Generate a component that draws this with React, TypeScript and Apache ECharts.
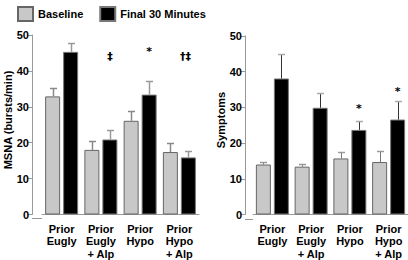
import React, { useEffect, useRef } from "react";
import * as echarts from "echarts";

const categories = ["Prior\nEugly", "Prior\nEugly\n+ Alp", "Prior\nHypo", "Prior\nHypo\n+ Alp"];
const seriesNames = ["Baseline", "Final 30 Minutes"];

const msnaBaseline = [32.9, 18.0, 26.1, 17.4];
const msnaBaselineErr = [2.3, 2.5, 2.8, 2.4];
const msnaFinal = [45.3, 20.9, 33.4, 15.9];
const msnaFinalErr = [2.6, 2.5, 3.7, 1.9];
const msnaMarks = ["", "‡", "*", "†‡"];
const msnaMarkY = [0, 44, 45.3, 44];

const symBaseline = [14.0, 13.4, 15.7, 14.7];
const symBaselineErr = [0.6, 0.8, 1.9, 3.1];
const symFinal = [38.1, 29.9, 23.7, 26.6];
const symFinalErr = [6.9, 4.2, 2.4, 5.1];
const symMarks = ["", "", "*", "*"];
const symMarkY = [0, 0, 29.6, 34.4];

const yTicks = { min: 0, max: 50, interval: 10 };

const FONT = 'Arial, "Liberation Sans", Helvetica, sans-serif';
const MARK_FONT = '"DejaVu Sans", "Liberation Sans", sans-serif';
const AXIS_GRAY = "#999";
const BAR_OFFSET = 9;

function errSeries(grid: number, base: number[], err: number[], offset: number, stroke: string, capStroke: string, lw: number) {
  return {
    type: "custom",
    xAxisIndex: grid,
    yAxisIndex: grid,
    z: 5,
    encode: { x: 0, y: 1 },
    data: base.map((v, i) => [i, v, err[i]]),
    renderItem: (params: any, api: any) => {
      const i = api.value(0);
      const v = api.value(1);
      const e = api.value(2);
      const p0 = api.coord([i, v]);
      const p1 = api.coord([i, v + e]);
      const x = Math.round(p0[0] + offset) + 0.5;
      const yTop = Math.round(p1[1]) + 0.5;
      return {
        type: "group",
        children: [
          { type: "line", shape: { x1: x, y1: p0[1], x2: x, y2: yTop }, style: { stroke, lineWidth: lw } },
          { type: "line", shape: { x1: x - 3.5, y1: yTop, x2: x + 3.5, y2: yTop }, style: { stroke: capStroke, lineWidth: 1.5 } },
        ],
      };
    },
  };
}

function markSeries(grid: number, marks: string[], ys: number[]) {
  return {
    type: "custom",
    xAxisIndex: grid,
    yAxisIndex: grid,
    z: 6,
    encode: { x: 0, y: 1 },
    data: marks.map((m, i) => [i, ys[i]]),
    renderItem: (params: any, api: any) => {
      const i = api.value(0);
      const y = api.value(1);
      const text = marks[params.dataIndex];
      if (!text) return { type: "group", children: [] };
      const p = api.coord([i, y]);
      return {
        type: "text",
        x: p[0] + BAR_OFFSET - (text.length > 1 ? 3 : 0),
        y: p[1],
        style: { text, font: `bold 11px ${MARK_FONT}`, fill: "#000", align: "center", verticalAlign: "middle" },
      };
    },
  };
}

function barSeries(grid: number, name: string, data: number[], color: string, border: string) {
  return {
    type: "bar",
    name,
    xAxisIndex: grid,
    yAxisIndex: grid,
    data,
    barWidth: 15,
    barGap: "20%",
    itemStyle: { color, borderColor: border, borderWidth: 1 },
  };
}

function xAxis(grid: number) {
  return {
    type: "category",
    gridIndex: grid,
    data: categories,
    axisLine: { show: true, lineStyle: { color: AXIS_GRAY, width: 1 } },
    axisTick: { show: false },
    axisLabel: { color: "#000", fontFamily: FONT, fontWeight: "bold", fontSize: 11, lineHeight: 12.5, margin: 8, interval: 0 },
    splitLine: { show: false },
  };
}

function yAxis(grid: number, offset: number) {
  return {
    type: "value",
    gridIndex: grid,
    min: yTicks.min,
    max: yTicks.max,
    interval: yTicks.interval,
    offset,
    axisLine: { show: true, lineStyle: { color: AXIS_GRAY, width: 1 } },
    axisTick: { show: true, length: 4, lineStyle: { color: AXIS_GRAY } },
    axisLabel: { color: "#000", fontFamily: FONT, fontWeight: "bold", fontSize: 11, margin: 3 },
    splitLine: { show: false },
  };
}

export default function App() {
  const ref = useRef<HTMLDivElement>(null);
  useEffect(() => {
    if (!ref.current) return;
    const chart = echarts.init(ref.current, null, { renderer: "svg" });
    chart.setOption({
      animation: false,
      backgroundColor: "#fff",
      legend: {
        data: seriesNames.map((n) => ({ name: n, icon: "rect" })),
        left: 12,
        top: 1,
        itemWidth: 15,
        itemHeight: 14,
        itemGap: 16,
        textStyle: { color: "#000", fontFamily: FONT, fontWeight: "bold", fontSize: 11 },
      },
      grid: [
        { left: 42, top: 35, width: 157, height: 183 },
        { left: 253, top: 36, width: 157, height: 183 },
      ],
      xAxis: [xAxis(0), xAxis(1)],
      yAxis: [yAxis(0, 10), yAxis(1, 8)],
      graphic: [
        { type: "line", shape: { x1: 32, y1: 218.5, x2: 42, y2: 218.5 }, style: { stroke: AXIS_GRAY, lineWidth: 1 } },
        { type: "line", shape: { x1: 245, y1: 219.5, x2: 253, y2: 219.5 }, style: { stroke: AXIS_GRAY, lineWidth: 1 } },
        {
          type: "text",
          x: 8,
          y: 120,
          rotation: Math.PI / 2,
          style: { text: "MSNA (bursts/min)", font: `bold 11px ${FONT}`, fill: "#000", align: "center", verticalAlign: "middle" },
        },
        {
          type: "text",
          x: 221,
          y: 120,
          rotation: Math.PI / 2,
          style: { text: "Symptoms", font: `bold 11px ${FONT}`, fill: "#000", align: "center", verticalAlign: "middle" },
        },
      ],
      series: [
        barSeries(0, seriesNames[0], msnaBaseline, "#c8c8c8", "#666"),
        barSeries(0, seriesNames[1], msnaFinal, "#000", "#777"),
        barSeries(1, seriesNames[0], symBaseline, "#c8c8c8", "#666"),
        barSeries(1, seriesNames[1], symFinal, "#000", "#777"),
        errSeries(0, msnaBaseline, msnaBaselineErr, -BAR_OFFSET, "#888", "#888", 1.5),
        errSeries(0, msnaFinal, msnaFinalErr, BAR_OFFSET, "#999", "#999", 1.5),
        errSeries(1, symBaseline, symBaselineErr, -BAR_OFFSET, "#777", "#999", 1),
        errSeries(1, symFinal, symFinalErr, BAR_OFFSET, "#333", "#aaa", 1),
        markSeries(0, msnaMarks, msnaMarkY),
        markSeries(1, symMarks, symMarkY),
      ],
    });
    return () => chart.dispose();
  }, []);
  return <div ref={ref} style={{ position: "absolute", left: 0, top: 0, width: 408, height: 260, background: "#fff" }} />;
}
